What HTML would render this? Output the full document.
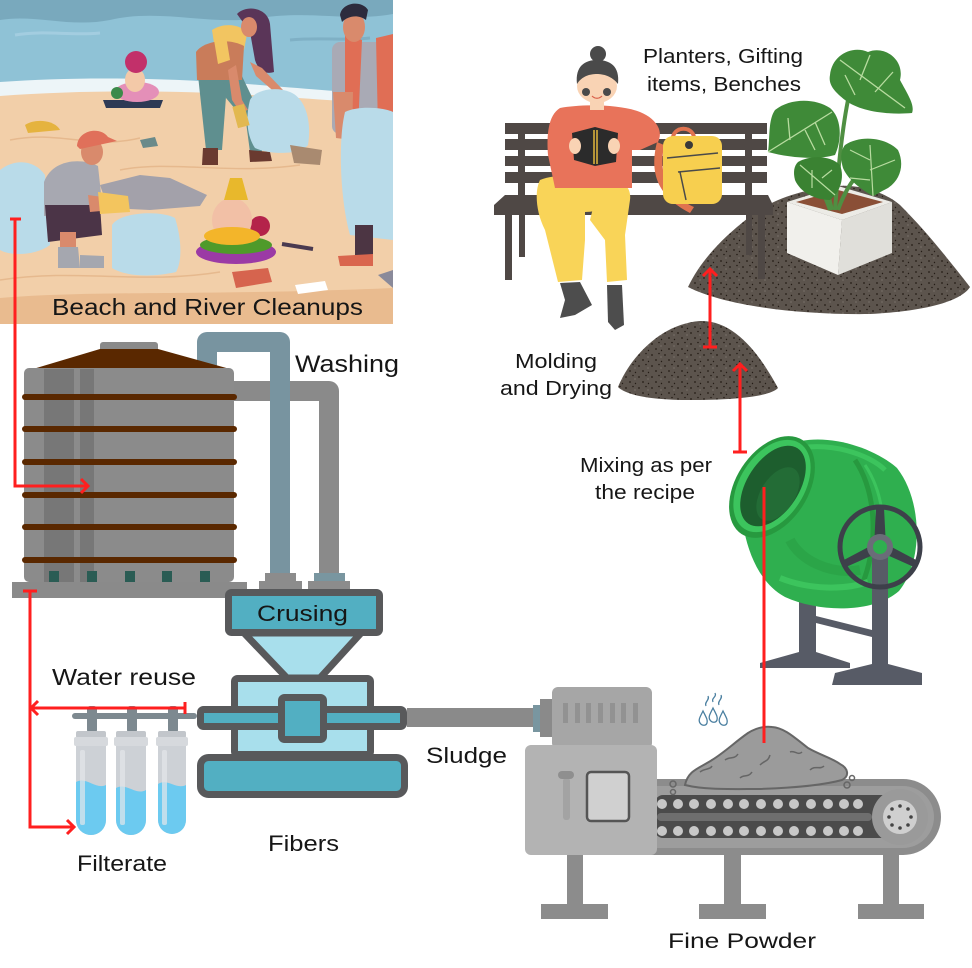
<!DOCTYPE html>
<html><head><meta charset="utf-8">
<style>
html,body{margin:0;padding:0;background:#fff;}
svg{display:block;}
text{font-family:"Liberation Sans",sans-serif;fill:#161616;}
</style></head>
<body>
<svg width="972" height="968" viewBox="0 0 972 968" xmlns="http://www.w3.org/2000/svg">
<defs>
<clipPath id="bc"><rect x="0" y="0" width="393" height="324"/></clipPath>
<pattern id="soil" width="13" height="11" patternUnits="userSpaceOnUse">
<rect width="13" height="11" fill="#5c544d"/>
<circle cx="2" cy="3" r="0.9" fill="#241c16"/>
<circle cx="9" cy="1.5" r="0.8" fill="#241c16"/>
<circle cx="6" cy="8" r="0.9" fill="#241c16"/>
<circle cx="11.5" cy="9.5" r="0.7" fill="#241c16"/>
<circle cx="11" cy="5" r="0.6" fill="#8a827a"/>
</pattern>
</defs>

<!-- ================= BEACH SCENE ================= -->
<g clip-path="url(#bc)">
<rect width="393" height="324" fill="#8fc2d6"/>
<path d="M0,0 H393 V14 C350,22 310,10 260,18 C210,26 160,8 110,20 C70,28 35,14 0,20 Z" fill="#79a9bd"/>
<path d="M15,35 C45,30 70,36 100,33" stroke="#a3cde0" stroke-width="3" fill="none"/>
<path d="M290,40 C320,37 345,41 370,38" stroke="#7fb0c5" stroke-width="3" fill="none"/>
<path d="M0,82 C80,76 180,78 260,85 C320,90 360,93 393,95 V104 C340,101 300,99 250,96 C170,91 80,91 0,97 Z" fill="#edf5f8"/>
<path d="M0,96 C80,90 170,90 250,95 C300,98 340,101 393,104 V324 H0 Z" fill="#f2cfa9"/>
<path d="M0,298 C100,290 200,296 393,288 V324 H0 Z" fill="#e9bb8f"/>
<path d="M10,140 C60,130 90,150 140,138" stroke="#e6b98e" stroke-width="1.5" fill="none"/>
<path d="M120,170 C170,160 230,175 300,165" stroke="#e6b98e" stroke-width="1.5" fill="none"/>
<path d="M0,280 C80,268 140,285 220,272" stroke="#e6b98e" stroke-width="1.5" fill="none"/>

<!-- woman -->
<path d="M197,66 L228,70 L222,150 L206,150 Z" fill="#5f8f8f"/>
<path d="M222,70 L240,72 L262,118 L262,152 L250,152 L246,122 L226,98 Z" fill="#5f8f8f"/>
<path d="M203,148 L218,148 L218,165 L202,165 Z" fill="#6a3a30"/>
<path d="M249,150 L270,152 L272,161 L250,162 Z" fill="#6a3a30"/>
<path d="M237,14 C247,4 268,8 270,24 L274,72 C265,75 258,70 255,60 L250,32 Z" fill="#5a3558"/>
<path d="M212,30 C224,22 242,24 247,34 L244,50 L216,56 Z" fill="#f2c561"/>
<path d="M196,52 C204,40 230,38 244,46 L242,80 L197,80 Z" fill="#c97c5a"/>
<path d="M214,40 L226,36 L230,60 L218,64 Z" fill="#f2c561"/>
<ellipse cx="249" cy="27" rx="8" ry="10" fill="#d98a6c"/>
<path d="M250,62 L262,68 L283,90 L278,95 L256,76 Z" fill="#d98a6c"/>
<path d="M236,65 L242,100 L248,110 L240,112 L232,100 L228,70 Z" fill="#d98a6c"/>
<path d="M250,100 C255,90 275,86 290,92 C305,98 312,120 308,145 C300,155 270,155 255,148 C246,135 246,115 250,100 Z" fill="#b9dbe9"/>
<path d="M290,145 L322,150 L320,165 L294,163 Z" fill="#a98a70"/>
<rect x="235" y="105" width="12" height="22" fill="#e2b850" transform="rotate(-15 241 116)"/>
<!-- man right -->
<rect x="332" y="42" width="61" height="92" rx="8" fill="#a9aab5"/>
<path d="M345,34 L362,40 L358,128 L345,126 Z" fill="#e06e55"/>
<path d="M376,38 L393,34 L393,128 L378,128 Z" fill="#e06e55"/>
<ellipse cx="354" cy="27" rx="11" ry="15" fill="#d98a6c"/>
<path d="M340,15 C342,2 362,0 368,10 L366,20 C358,14 348,16 342,22 Z" fill="#2d2b3d"/>
<path d="M333,92 L353,92 L352,140 L336,138 Z" fill="#d98a6c"/>
<path d="M342,130 L360,128 L365,160 L348,163 Z" fill="#f3c55e"/>
<path d="M345,112 C360,105 385,108 393,112 V240 L350,235 C340,200 338,140 345,112 Z" fill="#b9dbe9"/>
<rect x="355" y="225" width="18" height="32" fill="#4c3543"/>
<path d="M338,256 L373,254 L373,266 L340,266 Z" fill="#d9664e"/>
<!-- crouching man -->
<path d="M0,170 C15,158 35,160 45,175 L50,245 C35,256 10,256 0,250 Z" fill="#b9dbe9"/>
<path d="M100,185 L140,175 L170,178 L207,195 L200,206 L150,210 L108,208 Z" fill="#a3a1aa"/>
<path d="M44,182 C52,160 80,157 98,166 L103,212 L44,216 Z" fill="#a7a8b1"/>
<ellipse cx="92" cy="152" rx="11" ry="13" fill="#d98a6c"/>
<path d="M77,146 C78,130 100,126 108,137 L117,141 L80,149 Z" fill="#e0705a"/>
<path d="M45,205 L100,205 L102,235 L48,242 Z" fill="#4b3447"/>
<path d="M88,195 L110,198 L112,210 L90,212 Z" fill="#d98a6c"/>
<path d="M98,192 L128,196 L130,212 L100,214 Z" fill="#f3c55e"/>
<rect x="60" y="232" width="16" height="18" fill="#d98a6c"/>
<path d="M58,247 L78,247 L80,268 L58,268 Z" fill="#a5a7af"/>
<path d="M80,255 L104,256 L104,268 L80,268 Z" fill="#a5a7af"/>
<path d="M112,225 C120,212 160,210 175,218 C182,240 182,262 176,272 C150,278 125,276 112,268 Z" fill="#b9dbe9"/>
<!-- small Ganesh -->
<polygon points="103,100 163,100 160,108 106,108" fill="#2e3a55"/>
<ellipse cx="137" cy="92" rx="22" ry="10" fill="#e48fb8"/>
<circle cx="117" cy="93" r="6" fill="#3c8a4a"/>
<ellipse cx="135" cy="80" rx="10" ry="12" fill="#f3c9a8"/>
<circle cx="136" cy="62" r="11" fill="#c2306a"/>
<!-- big Ganesh -->
<ellipse cx="236" cy="252" rx="40" ry="12" fill="#9b3aa5"/>
<ellipse cx="236" cy="245" rx="36" ry="9" fill="#4f9a2a"/>
<circle cx="260" cy="226" r="10" fill="#b4234a"/>
<ellipse cx="232" cy="220" rx="20" ry="22" fill="#f2c0a6"/>
<ellipse cx="232" cy="236" rx="28" ry="9" fill="#f3b52a"/>
<polygon points="224,200 230,178 242,178 248,200" fill="#e8b82c"/>
<!-- trash -->
<path d="M25,125 C35,118 55,120 60,130 L28,133 Z" fill="#e5b33f"/>
<polygon points="232,272 268,268 272,282 236,288" fill="#d6644e"/>
<line x1="282" y1="244" x2="313" y2="249" stroke="#4a3a50" stroke-width="4"/>
<polygon points="295,285 325,281 328,290 298,294" fill="#ffffff"/>
<polygon points="378,275 393,270 393,288" fill="#8a8a9a"/>
<polygon points="140,140 155,137 158,146 143,148" fill="#6a8a8a"/>
</g>
<text x="52" y="315" font-size="23" textLength="311" lengthAdjust="spacingAndGlyphs">Beach and River Cleanups</text>

<!-- ================= PIPES ================= -->
<path d="M230,391 L329,391 L329,578" stroke="#8a8a8a" stroke-width="20" fill="none" stroke-linejoin="round"/>
<path d="M207,372 L207,342 L280,342 L280,578" stroke="#7894a0" stroke-width="20" fill="none" stroke-linejoin="round"/>

<!-- ================= TANK ================= -->
<rect x="100" y="342" width="58" height="10" rx="3" fill="#8a8a8a"/>
<polygon points="100,349 158,349 230,369 33,369" fill="#5a2800"/>
<rect x="24" y="368" width="210" height="214" rx="5" fill="#8b8b8b"/>
<rect x="44" y="369" width="30" height="213" fill="#777777"/>
<rect x="80" y="369" width="14" height="213" fill="#777777"/>
<g fill="#5a2800">
<rect x="22" y="394" width="215" height="6" rx="3"/>
<rect x="22" y="426" width="215" height="6" rx="3"/>
<rect x="22" y="459" width="215" height="6" rx="3"/>
<rect x="22" y="492" width="215" height="6" rx="3"/>
<rect x="22" y="524" width="215" height="6" rx="3"/>
<rect x="22" y="557" width="215" height="6" rx="3"/>
</g>
<g fill="#2a5c54">
<rect x="49" y="571" width="10" height="11"/>
<rect x="87" y="571" width="10" height="11"/>
<rect x="125" y="571" width="10" height="11"/>
<rect x="162" y="571" width="10" height="11"/>
<rect x="200" y="571" width="10" height="11"/>
</g>
<rect x="12" y="582" width="235" height="16" fill="#8a8a8a"/>
<!-- connectors -->
<rect x="265" y="573" width="31" height="9" fill="#8c8c8c"/>
<rect x="259" y="581" width="43" height="9" fill="#8c8c8c"/>
<rect x="314" y="573" width="31" height="9" fill="#7996a0"/>
<rect x="308" y="581" width="42" height="9" fill="#8c8c8c"/>
<text x="295" y="372" font-size="24" textLength="104" lengthAdjust="spacingAndGlyphs">Washing</text>

<!-- ================= CRUSHER ================= -->
<g stroke="#58595b" stroke-width="7" stroke-linejoin="round">
<polygon points="244,633 361,633 320,678 287,678" fill="#a8dfec"/>
<rect x="228.5" y="592.5" width="151" height="40" rx="3" fill="#52afc2"/>
<rect x="234.5" y="678.5" width="136" height="76" rx="3" fill="#a8dfec"/>
<rect x="200.5" y="757.5" width="204" height="37" rx="8" fill="#52afc2"/>
<rect x="200.5" y="709.5" width="203" height="17" rx="3" fill="#52afc2"/>
<rect x="281.5" y="697.5" width="42" height="42" rx="3" fill="#52afc2"/>
</g>
<text x="257" y="621" font-size="22" textLength="91" lengthAdjust="spacingAndGlyphs">Crusing</text>

<!-- pipe to motor -->
<rect x="407" y="708" width="128" height="19" fill="#8a8a8a"/>

<!-- ================= FILTERS ================= -->
<rect x="72" y="713" width="125" height="6" rx="3" fill="#7d8990"/>
<g fill="#7d8990">
<rect x="87" y="706" width="10" height="27" rx="3"/>
<rect x="127" y="706" width="10" height="27" rx="3"/>
<rect x="168" y="706" width="10" height="27" rx="3"/>
</g>
<g>
<rect x="76" y="731" width="30" height="7" rx="2" fill="#c2c6cb"/>
<rect x="74" y="737" width="34" height="9" rx="2" fill="#d6d9dd"/>
<path d="M76,746 H106 V820 A15,15 0 0 1 76,820 Z" fill="#cdd1d6"/>
<path d="M76,782 C86,776 96,790 106,785 V820 A15,15 0 0 1 76,820 Z" fill="#6ccaf0"/>
<rect x="80" y="750" width="5" height="75" rx="2" fill="#e4e7ea" opacity="0.7"/>

<rect x="116" y="731" width="30" height="7" rx="2" fill="#c2c6cb"/>
<rect x="114" y="737" width="34" height="9" rx="2" fill="#d6d9dd"/>
<path d="M116,746 H146 V820 A15,15 0 0 1 116,820 Z" fill="#cdd1d6"/>
<path d="M116,788 C126,782 136,796 146,790 V820 A15,15 0 0 1 116,820 Z" fill="#6ccaf0"/>
<rect x="120" y="750" width="5" height="75" rx="2" fill="#e4e7ea" opacity="0.7"/>

<rect x="158" y="731" width="28" height="7" rx="2" fill="#c2c6cb"/>
<rect x="156" y="737" width="32" height="9" rx="2" fill="#d6d9dd"/>
<path d="M158,746 H186 V820 A14,14 0 0 1 158,820 Z" fill="#cdd1d6"/>
<path d="M158,784 C168,778 176,790 186,785 V820 A14,14 0 0 1 158,820 Z" fill="#6ccaf0"/>
<rect x="162" y="750" width="5" height="75" rx="2" fill="#e4e7ea" opacity="0.7"/>
</g>

<text x="52" y="685" font-size="23" textLength="144" lengthAdjust="spacingAndGlyphs">Water reuse</text>
<text x="77" y="871" font-size="22" textLength="90" lengthAdjust="spacingAndGlyphs">Filterate</text>
<text x="268" y="851" font-size="22" textLength="71" lengthAdjust="spacingAndGlyphs">Fibers</text>
<text x="426" y="763" font-size="22" textLength="81" lengthAdjust="spacingAndGlyphs">Sludge</text>

<!-- ================= MOTOR + CONVEYOR ================= -->
<rect x="533" y="705" width="8" height="27" fill="#7996a0"/>
<rect x="540" y="699" width="14" height="38" fill="#8a8a8a"/>
<rect x="552" y="687" width="100" height="62" rx="6" fill="#a6a6a6"/>
<g fill="#929292">
<rect x="563" y="703" width="5" height="20"/>
<rect x="575" y="703" width="5" height="20"/>
<rect x="586" y="703" width="5" height="20"/>
<rect x="598" y="703" width="5" height="20"/>
<rect x="610" y="703" width="5" height="20"/>
<rect x="621" y="703" width="5" height="20"/>
<rect x="633" y="703" width="5" height="20"/>
</g>
<!-- legs -->
<g fill="#8c8c8c">
<rect x="567" y="850" width="16" height="56"/>
<rect x="541" y="904" width="67" height="15"/>
<rect x="724" y="850" width="17" height="56"/>
<rect x="699" y="904" width="67" height="15"/>
<rect x="883" y="850" width="16" height="56"/>
<rect x="858" y="904" width="66" height="15"/>
</g>
<path d="M650,779 L903,779 A38,38 0 0 1 903,855 L650,855 Z" fill="#8c8c8c"/>
<path d="M650,786 L903,786 A31,31 0 0 1 903,848 L650,848 Z" fill="#9d9d9d"/>
<rect x="655" y="795" width="240" height="43" rx="8" fill="#4b4b4b"/>
<rect x="657" y="813" width="215" height="8" rx="4" fill="#6e6e6e"/>
<g fill="#c8c8c8">
<circle cx="662" cy="804" r="5"/><circle cx="678" cy="804" r="5"/><circle cx="694" cy="804" r="5"/><circle cx="711" cy="804" r="5"/><circle cx="728" cy="804" r="5"/><circle cx="744" cy="804" r="5"/><circle cx="761" cy="804" r="5"/><circle cx="778" cy="804" r="5"/><circle cx="794" cy="804" r="5"/><circle cx="811" cy="804" r="5"/><circle cx="828" cy="804" r="5"/><circle cx="844" cy="804" r="5"/><circle cx="858" cy="804" r="5"/>
<circle cx="662" cy="831" r="5"/><circle cx="678" cy="831" r="5"/><circle cx="694" cy="831" r="5"/><circle cx="711" cy="831" r="5"/><circle cx="728" cy="831" r="5"/><circle cx="744" cy="831" r="5"/><circle cx="761" cy="831" r="5"/><circle cx="778" cy="831" r="5"/><circle cx="794" cy="831" r="5"/><circle cx="811" cy="831" r="5"/><circle cx="828" cy="831" r="5"/><circle cx="844" cy="831" r="5"/><circle cx="858" cy="831" r="5"/>
</g>
<circle cx="900" cy="817" r="28" fill="#9a9a9a"/>
<circle cx="900" cy="817" r="17" fill="#cfcfcf"/>
<g fill="#444">
<circle cx="900" cy="806" r="1.8"/><circle cx="908" cy="809" r="1.8"/><circle cx="911" cy="817" r="1.8"/><circle cx="908" cy="825" r="1.8"/><circle cx="900" cy="828" r="1.8"/><circle cx="892" cy="825" r="1.8"/><circle cx="889" cy="817" r="1.8"/><circle cx="892" cy="809" r="1.8"/>
</g>
<!-- main box -->
<rect x="525" y="745" width="132" height="110" rx="6" fill="#b3b3b3"/>
<rect x="563" y="778" width="7" height="42" rx="3" fill="#a3a3a3"/>
<rect x="558" y="771" width="16" height="8" rx="4" fill="#8f8f8f"/>
<rect x="587" y="772" width="42" height="49" rx="4" fill="#d0d0d0" stroke="#555" stroke-width="2.5"/>

<!-- powder pile -->
<path d="M685,785 C688,770 700,768 712,760 C725,752 735,742 748,733 C756,728 764,726 772,727 C785,728 795,738 808,748 C820,755 832,758 840,764 C848,768 850,776 842,780 C820,786 790,788 760,789 C730,789 705,790 685,785 Z" fill="#9b9b9b" stroke="#666" stroke-width="2"/>
<g stroke="#666" stroke-width="1.5" fill="none">
<path d="M700,772 C705,768 710,770 712,766"/><path d="M725,760 C730,756 734,760 738,754"/><path d="M760,765 C765,760 768,762 770,755"/><path d="M790,752 C795,750 798,756 802,752"/><path d="M810,770 C815,765 820,770 824,766"/><path d="M740,778 C744,774 748,778 752,772"/>
</g>
<g fill="none" stroke="#666" stroke-width="1.5">
<circle cx="673" cy="784" r="3"/><circle cx="847" cy="785" r="3"/><circle cx="852" cy="778" r="2.5"/><circle cx="673" cy="792" r="2.5"/>
</g>
<!-- water drops -->
<g fill="none" stroke="#4a7fa0" stroke-width="1.3">
<path d="M703,711 C700,717 698,720 700,723 C702,726 706,726 707,723 C708,720 706,717 703,711 Z"/>
<path d="M713,708 C710,714 708,717 710,720 C712,723 716,723 717,720 C718,717 716,714 713,708 Z"/>
<path d="M723,711 C720,717 718,720 720,723 C722,726 726,726 727,723 C728,720 726,717 723,711 Z"/>
<path d="M706,706 C704,702 710,700 708,696"/><path d="M719,705 C717,701 723,699 721,695"/><path d="M713,702 C711,698 717,697 715,693"/>
</g>
<text x="668" y="948" font-size="21" textLength="148" lengthAdjust="spacingAndGlyphs">Fine Powder</text>

<!-- ================= MIXER ================= -->
<g fill="#575b66">
<rect x="799" y="597" width="17" height="58"/>
<polygon points="760,663 799,652 816,652 850,663 850,668 760,668"/>
<polygon points="816,616 872,630 872,637 816,623"/>
</g>
<path d="M785,446 C820,430 872,446 897,468 C922,500 924,560 899,591 C874,613 820,613 785,597 C763,585 750,560 744,530 Z" fill="#2faf4f"/>
<path d="M790,450 C830,440 870,455 885,470" stroke="#3cc45d" stroke-width="5" fill="none"/>
<path d="M855,460 C875,490 880,540 862,585" stroke="#27993f" stroke-width="5" fill="none"/>
<path d="M865,465 C885,495 890,540 872,585" stroke="#3cc45d" stroke-width="3" fill="none"/>
<path d="M780,578 C810,590 845,590 868,582" stroke="#3cc45d" stroke-width="6" fill="none"/>
<path d="M790,540 C800,560 830,575 860,570" stroke="#2a9f45" stroke-width="10" fill="none" opacity="0.6"/>
<ellipse cx="772" cy="487" rx="36" ry="56" transform="rotate(33 772 487)" fill="#27993f"/>
<ellipse cx="772" cy="486" rx="32" ry="51" transform="rotate(33 772 486)" fill="#3cc45d"/>
<ellipse cx="773" cy="486" rx="26" ry="45" transform="rotate(33 773 486)" fill="#1d5e2e"/>
<ellipse cx="778" cy="494" rx="17" ry="30" transform="rotate(33 778 494)" fill="#236c36"/>
<!-- wheel & right leg -->
<rect x="872" y="547" width="16" height="123" fill="#575b66"/>
<polygon points="835,673 872,664 888,664 922,673 922,685 832,685" fill="#575b66"/>
<circle cx="880" cy="547" r="40" fill="none" stroke="#3d404a" stroke-width="5"/>
<polygon points="876,508 884,508 886,547 874,547" fill="#3d404a"/>
<polygon points="846,567 842,561 876,543 882,551" fill="#3d404a"/>
<polygon points="914,567 918,561 884,543 878,551" fill="#3d404a"/>
<circle cx="880" cy="547" r="13" fill="#6a6d78"/>
<circle cx="880" cy="547" r="7" fill="#2faf4f"/>
<text x="580" y="472" font-size="20" textLength="132" lengthAdjust="spacingAndGlyphs">Mixing as per</text>
<text x="595" y="499" font-size="20" textLength="100" lengthAdjust="spacingAndGlyphs">the recipe</text>

<!-- ================= MOUNDS ================= -->
<path d="M688,287 C700,262 720,240 748,218 C770,200 800,190 835,186 C860,184 885,192 900,205 C925,230 945,255 970,287 C962,300 930,311 870,314 C800,315 725,306 688,287 Z" fill="url(#soil)"/>
<path d="M618,387 C630,358 660,324 700,321 C735,320 760,355 778,388 C770,397 730,400 690,400 C650,400 626,395 618,387 Z" fill="url(#soil)"/>

<!-- ================= BENCH ================= -->
<g fill="#4f4845">
<rect x="505" y="123" width="262" height="11"/>
<rect x="505" y="139" width="262" height="11"/>
<rect x="505" y="156" width="262" height="10"/>
<rect x="505" y="172" width="262" height="11"/>
<rect x="518" y="123" width="7" height="75"/>
<rect x="745" y="123" width="7" height="75"/>
<polygon points="505,195 768,195 773,205 773,215 494,215 494,205"/>
<rect x="505" y="215" width="7" height="65"/>
<rect x="519" y="215" width="6" height="42"/>
<rect x="746" y="215" width="6" height="40"/>
<rect x="758" y="215" width="7" height="64"/>
</g>
<!-- backpack -->
<path d="M657,142 C650,170 655,195 690,213 L694,207 C662,192 660,170 664,145 Z" fill="#e0734f"/>
<path d="M673,137 C675,126 692,126 694,137" stroke="#e0734f" stroke-width="4" fill="none"/>
<rect x="663" y="136" width="59" height="68" rx="10" fill="#f7cf4f"/>
<path d="M667,158 L718,153" stroke="#4a4a4a" stroke-width="1.5"/>
<path d="M678,172 L720,168" stroke="#4a4a4a" stroke-width="1.5"/>
<path d="M680,172 L686,200" stroke="#4a4a4a" stroke-width="1.5"/>
<circle cx="689" cy="145" r="4" fill="#3a3a3a"/>
<!-- woman -->
<path d="M600,180 C620,178 632,185 630,200 L625,235 L627,280 L607,282 L605,240 L590,220 Z" fill="#f9d458"/>
<path d="M540,180 C560,172 600,175 612,185 C618,205 600,212 585,212 L585,240 L582,280 L558,282 L545,230 C535,210 535,190 540,180 Z" fill="#f9d458"/>
<path d="M560,283 L580,282 L592,305 L575,315 L560,318 L565,300 Z" fill="#4d4d4d"/>
<path d="M607,285 L622,285 L624,325 L615,330 L608,322 Z" fill="#4d4d4d"/>
<path d="M560,108 C580,104 620,104 640,112 C655,118 664,130 658,142 L640,150 L632,150 L632,188 L555,188 L548,155 C546,130 550,114 560,108 Z" fill="#e8735a"/>
<rect x="590" y="100" width="14" height="10" fill="#f9d3b4"/>
<polygon points="572,133 595,127 618,133 616,162 595,166 574,160" fill="#2b2b2b"/>
<line x1="594" y1="130" x2="594" y2="164" stroke="#e2b83c" stroke-width="1.5"/>
<line x1="597" y1="130" x2="597" y2="164" stroke="#e2b83c" stroke-width="1.5"/>
<ellipse cx="575" cy="146" rx="6" ry="8" fill="#f9d3b4"/>
<ellipse cx="614" cy="146" rx="6" ry="8" fill="#f9d3b4"/>
<ellipse cx="597" cy="86" rx="20" ry="17" fill="#f9d3b4"/>
<path d="M577,84 C575,66 585,60 597,60 C610,60 620,66 618,84 C612,76 603,74 597,74 C590,74 582,76 577,84 Z" fill="#4a4a4a"/>
<circle cx="598" cy="54" r="8" fill="#4a4a4a"/>
<circle cx="586" cy="92" r="4" fill="#4a4a4a"/>
<circle cx="607" cy="92" r="4" fill="#4a4a4a"/>
<path d="M592,96 C595,99 599,99 602,96" stroke="#d9604a" stroke-width="1.2" fill="none"/>

<!-- ================= PLANT POT ================= -->
<polygon points="787,202 842,220 838,275 787,253" fill="#f1f0ec"/>
<polygon points="842,220 892,202 892,253 838,275" fill="#e0dfda"/>
<polygon points="787,202 838,186 892,202 842,220" fill="#ecebe6"/>
<polygon points="796,202 838,190 883,202 842,214" fill="#8a4f36"/>
<!-- stems -->
<g stroke="#4f8f42" stroke-width="4" fill="none">
<path d="M835,210 C838,170 842,130 848,100"/>
<path d="M832,210 C825,180 815,160 805,140"/>
<path d="M838,210 C845,190 855,175 868,165"/>
<path d="M830,210 C825,195 820,188 818,180"/>
</g>
<!-- leaves -->
<path d="M830,75 C832,55 852,45 868,52 C885,45 905,60 900,80 C908,95 915,105 912,113 C890,115 860,112 845,100 C835,92 828,85 830,75 Z" fill="#3f8a38"/>
<path d="M840,60 L905,108 M860,80 L870,55 M875,92 L893,72 M855,95 L845,75" stroke="#b8dca0" stroke-width="1.3" fill="none"/>
<path d="M775,110 C790,98 815,98 830,108 C842,118 842,140 835,155 C818,160 790,158 768,152 C770,138 768,120 775,110 Z" fill="#3f8a38"/>
<path d="M768,152 L832,112 M790,140 L788,118 M805,130 L815,150 M815,122 L825,145" stroke="#b8dca0" stroke-width="1.3" fill="none"/>
<path d="M798,162 C810,155 830,155 840,165 C845,178 840,192 830,200 C815,200 800,192 795,180 C793,172 794,166 798,162 Z" fill="#3a8232"/>
<path d="M800,165 L835,195 M812,170 L812,188 M822,178 L832,170" stroke="#b8dca0" stroke-width="1.2" fill="none"/>
<path d="M845,145 C860,135 885,137 898,150 C905,165 900,180 888,188 C880,192 876,195 873,196 C862,190 848,180 843,168 C840,158 841,150 845,145 Z" fill="#3f8a38"/>
<path d="M873,196 L870,145 M870,160 L850,150 M870,170 L895,160 M870,180 L850,178" stroke="#b8dca0" stroke-width="1.2" fill="none"/>

<text x="643" y="63" font-size="20" textLength="160" lengthAdjust="spacingAndGlyphs">Planters, Gifting</text>
<text x="647" y="91" font-size="20" textLength="154" lengthAdjust="spacingAndGlyphs">items, Benches</text>
<text x="515" y="368" font-size="20" textLength="82" lengthAdjust="spacingAndGlyphs">Molding</text>
<text x="500" y="395" font-size="20" textLength="112" lengthAdjust="spacingAndGlyphs">and Drying</text>

<!-- ================= RED CONNECTORS ================= -->
<g stroke="#ff1f1f" stroke-width="3" fill="none" stroke-linecap="butt">
<path d="M15,219 V486 H88"/>
<line x1="10" y1="219" x2="21" y2="219"/>
<polyline points="81,479 88,486 81,493"/>
<path d="M30,591 V827 H74"/>
<line x1="23" y1="591" x2="37" y2="591"/>
<polyline points="67,820 74,827 67,834"/>
<line x1="31" y1="708" x2="185" y2="708"/>
<line x1="185" y1="702" x2="185" y2="714"/>
<polyline points="38,701 31,708 38,715"/>
<line x1="764" y1="487" x2="764" y2="743"/>
<line x1="740" y1="452" x2="740" y2="364"/>
<line x1="733" y1="452" x2="747" y2="452"/>
<polyline points="733,371 740,364 747,371"/>
<line x1="710" y1="347" x2="710" y2="269"/>
<line x1="703" y1="347" x2="717" y2="347"/>
<polyline points="703,276 710,269 717,276"/>
</g>
</svg>
</body></html>
